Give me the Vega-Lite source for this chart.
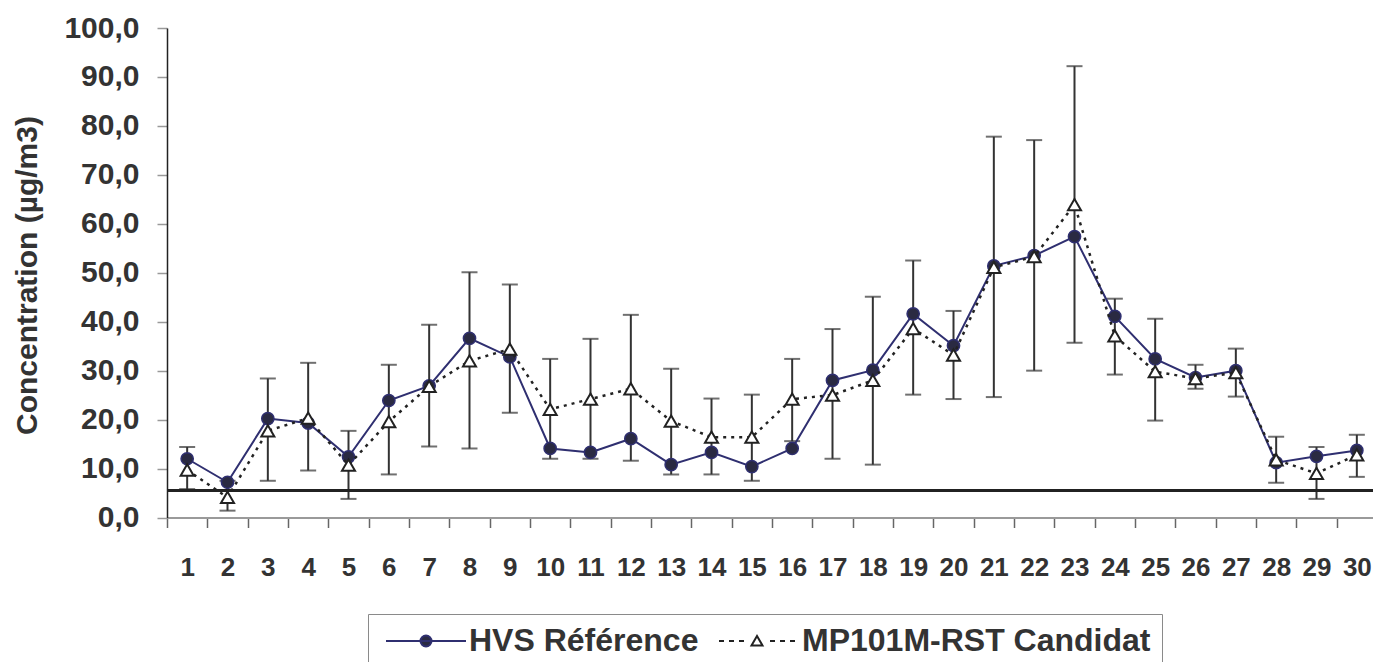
{
  "$schema": "https://vega.github.io/schema/vega-lite/v6.json",
  "autosize": "none",
  "width": 1206,
  "height": 489.5,
  "padding": {"left": 167, "top": 28, "right": 0, "bottom": 144.5},
  "background": "white",
  "config": {
    "view": {"stroke": null},
    "font": "Liberation Sans"
  },
  "data": {
    "values": [
      {"day": 1, "hvs": 12.0, "mp": 9.7, "lo": 5.8, "hi": 14.4},
      {"day": 2, "hvs": 7.2, "mp": 4.1, "lo": 1.4, "hi": 7.5},
      {"day": 3, "hvs": 20.2, "mp": 17.7, "lo": 7.5, "hi": 28.4},
      {"day": 4, "hvs": 19.3, "mp": 20.3, "lo": 9.6, "hi": 31.6},
      {"day": 5, "hvs": 12.4, "mp": 10.7, "lo": 3.8, "hi": 17.7},
      {"day": 6, "hvs": 23.9, "mp": 19.6, "lo": 8.8, "hi": 31.2},
      {"day": 7, "hvs": 26.9, "mp": 26.8, "lo": 14.5, "hi": 39.4},
      {"day": 8, "hvs": 36.6, "mp": 32.0, "lo": 14.1, "hi": 50.1},
      {"day": 9, "hvs": 32.8, "mp": 34.4, "lo": 21.4, "hi": 47.6},
      {"day": 10, "hvs": 14.1, "mp": 22.1, "lo": 12.0, "hi": 32.4},
      {"day": 11, "hvs": 13.3, "mp": 24.2, "lo": 12.0, "hi": 36.5},
      {"day": 12, "hvs": 16.1, "mp": 26.3, "lo": 11.6, "hi": 41.4},
      {"day": 13, "hvs": 10.8, "mp": 19.7, "lo": 8.8, "hi": 30.4},
      {"day": 14, "hvs": 13.3, "mp": 16.4, "lo": 8.8, "hi": 24.3},
      {"day": 15, "hvs": 10.4, "mp": 16.4, "lo": 7.5, "hi": 25.1},
      {"day": 16, "hvs": 14.1, "mp": 24.2, "lo": 15.6, "hi": 32.4},
      {"day": 17, "hvs": 28.0, "mp": 25.0, "lo": 12.0, "hi": 38.5},
      {"day": 18, "hvs": 30.1, "mp": 28.0, "lo": 10.8, "hi": 45.1},
      {"day": 19, "hvs": 41.6, "mp": 38.6, "lo": 25.1, "hi": 52.5},
      {"day": 20, "hvs": 35.1, "mp": 33.2, "lo": 24.2, "hi": 42.2},
      {"day": 21, "hvs": 51.4, "mp": 51.1, "lo": 24.6, "hi": 77.8},
      {"day": 22, "hvs": 53.5, "mp": 53.3, "lo": 30.0, "hi": 77.1},
      {"day": 23, "hvs": 57.4, "mp": 63.9, "lo": 35.7, "hi": 92.2},
      {"day": 24, "hvs": 41.1, "mp": 37.1, "lo": 29.2, "hi": 44.7},
      {"day": 25, "hvs": 32.4, "mp": 29.8, "lo": 19.8, "hi": 40.6},
      {"day": 26, "hvs": 28.6, "mp": 28.4, "lo": 26.3, "hi": 31.2},
      {"day": 27, "hvs": 30.0, "mp": 29.6, "lo": 24.7, "hi": 34.5},
      {"day": 28, "hvs": 11.2, "mp": 11.8, "lo": 7.1, "hi": 16.5},
      {"day": 29, "hvs": 12.5, "mp": 9.0, "lo": 3.8, "hi": 14.4},
      {"day": 30, "hvs": 13.7, "mp": 12.8, "lo": 8.3, "hi": 16.9}
    ]
  },
  "encoding": {
    "x": {
      "field": "day",
      "type": "ordinal",
      "scale": {"type": "band", "paddingInner": 0, "paddingOuter": 0, "range": [0, 1210]},
      "axis": {
        "title": null,
        "labelAngle": 0,
        "labelFontSize": 26,
        "labelFontWeight": "bold",
        "labelColor": "#333333",
        "labelPadding": 27,
        "domainColor": "#9a9a9a",
        "domainWidth": 2,
        "tickColor": "#666666",
        "tickWidth": 1.5,
        "tickSize": 10,
        "tickBand": "extent",
        "grid": false
      }
    }
  },
  "layer": [
    {
      "mark": {"type": "rule", "color": "#333333", "strokeWidth": 2},
      "encoding": {
        "y": {
          "field": "lo",
          "type": "quantitative",
          "scale": {"domain": [0, 100], "nice": false},
          "axis": {
            "title": "Concentration (µg/m3)",
            "titleFontSize": 30,
            "titleFontWeight": "bold",
            "titleColor": "#333333",
            "titleX": -140,
            "titleY": 247,
            "titleAngle": 270,
            "titleAlign": "center",
            "titleBaseline": "middle",
            "values": [0, 10, 20, 30, 40, 50, 60, 70, 80, 90, 100],
            "labelExpr": "replace(format(datum.value, '.1f'), '.', ',')",
            "labelFontSize": 30,
            "labelFontWeight": "bold",
            "labelColor": "#333333",
            "labelPadding": 18,
            "domainColor": "#222222",
            "domainWidth": 1.5,
            "tickColor": "#999999",
            "tickWidth": 1.5,
            "tickSize": 10,
            "grid": false
          }
        },
        "y2": {"field": "hi"}
      }
    },
    {
      "mark": {"type": "tick", "orient": "horizontal", "color": "#333333", "size": 16, "thickness": 2},
      "encoding": {"y": {"field": "lo", "type": "quantitative"}}
    },
    {
      "mark": {"type": "tick", "orient": "horizontal", "color": "#333333", "size": 16, "thickness": 2},
      "encoding": {"y": {"field": "hi", "type": "quantitative"}}
    },
    {
      "mark": {"type": "rule", "color": "#222222", "strokeWidth": 2.5},
      "encoding": {"y": {"datum": 5.5}, "x": null}
    },
    {
      "mark": {"type": "line", "color": "#2f2f70", "strokeWidth": 2},
      "encoding": {"y": {"field": "hvs", "type": "quantitative"}}
    },
    {
      "mark": {"type": "point", "shape": "circle", "filled": true, "fill": "#2a2a42", "stroke": "#2f2f70", "strokeWidth": 1.5, "size": 150, "opacity": 1},
      "encoding": {"y": {"field": "hvs", "type": "quantitative"}}
    },
    {
      "mark": {"type": "line", "color": "#222222", "strokeWidth": 2.5, "strokeDash": [3, 5]},
      "encoding": {"y": {"field": "mp", "type": "quantitative"}}
    },
    {
      "mark": {"type": "point", "shape": "triangle-up", "filled": true, "fill": "#ffffff", "stroke": "#222222", "strokeWidth": 2, "size": 170, "opacity": 1},
      "encoding": {"y": {"field": "mp", "type": "quantitative"}}
    },
    {
      "data": {"values": [{"series": "HVS Référence"}, {"series": "MP101M-RST Candidat"}]},
      "transform": [{"filter": "false"}],
      "mark": {"type": "point", "size": 400, "strokeWidth": 2, "filled": true, "opacity": 1},
      "encoding": {
        "x": null,
        "shape": {
          "field": "series",
          "type": "nominal",
          "scale": {
            "domain": ["HVS Référence", "MP101M-RST Candidat"],
            "range": [
              "M-0.9,0H7.1M2.55,0A0.55,0.55,0,1,1,3.65,0A0.55,0.55,0,1,1,2.55,0Z",
              "M-0.9,0H-0.4M0.1,0H0.6M1.1,0H1.6M4.2,0H4.7M5.2,0H5.7M6.2,0H6.7M2.35,0.45L2.9,-0.5L3.45,0.45Z"
            ]
          },
          "legend": {
            "title": null,
            "orient": "none",
            "legendX": 201,
            "legendY": 586,
            "direction": "horizontal",
            "padding": 11,
            "strokeColor": "#8a8a8a",
            "symbolSize": 400,
            "symbolStrokeWidth": 2,
            "symbolOpacity": 1,
            "labelOffset": 58,
            "labelFontSize": 32,
            "labelFontWeight": "bold",
            "labelColor": "#333333",
            "labelLimit": 0,
            "columnPadding": 13
          }
        },
        "fill": {
          "field": "series",
          "type": "nominal",
          "scale": {"domain": ["HVS Référence", "MP101M-RST Candidat"], "range": ["#2a2a42", "#ffffff"]},
          "legend": {"title": null}
        },
        "stroke": {
          "field": "series",
          "type": "nominal",
          "scale": {"domain": ["HVS Référence", "MP101M-RST Candidat"], "range": ["#2f2f70", "#222222"]},
          "legend": {"title": null}
        }
      }
    }
  ]
}
